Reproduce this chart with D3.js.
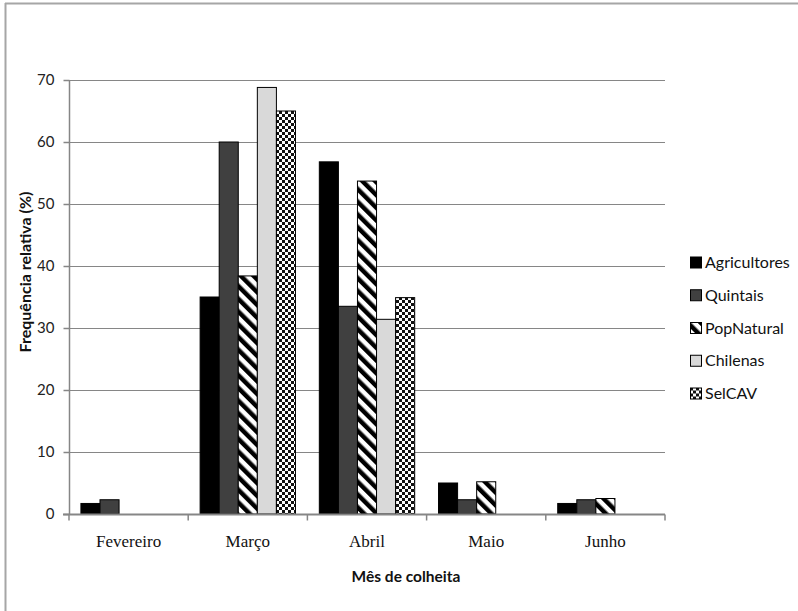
<!DOCTYPE html>
<html>
<head>
<meta charset="utf-8">
<script src="https://cdn.jsdelivr.net/npm/d3@7"></script>
<style>
  html, body { margin: 0; padding: 0; background: #fff; }
  svg { display: block; }
</style>
</head>
<body>
<svg id="chart" width="798" height="611"></svg>
<script>
// Harvest month distribution per group (relative frequency, %)
const months = ["Fevereiro", "Março", "Abril", "Maio", "Junho"];
const groups = ["Agricultores", "Quintais", "PopNatural", "Chilenas", "SelCAV"];
const agricultores = [1.7, 35.0, 56.8, 5.0, 1.7];
const quintais     = [2.3, 60.0, 33.5, 2.3, 2.3];
const popNatural   = [0,   38.4, 53.7, 5.2, 2.5];
const chilenas     = [0,   68.8, 31.4, 0,   0];
const selCAV       = [0,   65.0, 34.9, 0,   0];
const yTicks = [0, 10, 20, 30, 40, 50, 60, 70];

const seriesValues = [agricultores, quintais, popNatural, chilenas, selCAV];

const svg = d3.select("#chart");
const defs = svg.append("defs");

// Diagonal stripe fill
const stripe = defs.append("pattern")
  .attr("id", "stripes").attr("patternUnits", "userSpaceOnUse")
  .attr("width", 9).attr("height", 9)
  .attr("patternTransform", "rotate(-45)");
stripe.append("rect").attr("width", 9).attr("height", 9).attr("fill", "#fff");
stripe.append("rect").attr("x", 0).attr("width", 4.5).attr("height", 9).attr("fill", "#000");

// Small checkerboard fill
const checker = defs.append("pattern")
  .attr("id", "checker").attr("patternUnits", "userSpaceOnUse")
  .attr("width", 6).attr("height", 6);
checker.append("rect").attr("width", 6).attr("height", 6).attr("fill", "#fff");
checker.append("rect").attr("x", 0).attr("y", 0).attr("width", 3).attr("height", 3).attr("fill", "#111");
checker.append("rect").attr("x", 3).attr("y", 3).attr("width", 3).attr("height", 3).attr("fill", "#111");

const fills = ["#000000", "#404040", "url(#stripes)", "#d9d9d9", "url(#checker)"];

// Outer frame (left and top edges)
svg.append("line").attr("x1", 5.5).attr("x2", 5.5).attr("y1", 3).attr("y2", 611)
  .attr("stroke", "#a6a6a6").attr("stroke-width", 2);
svg.append("line").attr("x1", 5).attr("x2", 798).attr("y1", 3.5).attr("y2", 3.5)
  .attr("stroke", "#a6a6a6").attr("stroke-width", 2);

const plot = { left: 69, right: 665, top: 80, bottom: 514 };
const sans = "Lato, 'Open Sans', sans-serif";

const x0 = d3.scaleBand().domain(months).range([plot.left, plot.right]).padding(0);
const x1 = d3.scaleBand().domain(groups)
  .range([x0.bandwidth() * 0.1, x0.bandwidth() * 0.9]).padding(0);
const y = d3.scaleLinear().domain([0, 70]).range([plot.bottom, plot.top]);

// Gridlines
svg.append("g").selectAll("line").data(yTicks.filter(d => d > 0)).join("line")
  .attr("x1", plot.left).attr("x2", plot.right)
  .attr("y1", d => Math.round(y(d)) + 0.5).attr("y2", d => Math.round(y(d)) + 0.5)
  .attr("stroke", "#868686").attr("stroke-width", 1);

// Bars
const barG = svg.append("g");
months.forEach((m, i) => {
  groups.forEach((g, j) => {
    const v = seriesValues[j][i];
    if (!v) return;
    barG.append("rect")
      .attr("x", x0(m) + x1(g))
      .attr("y", y(v))
      .attr("width", x1.bandwidth())
      .attr("height", y(0) - y(v))
      .attr("fill", fills[j])
      .attr("stroke", "#000").attr("stroke-width", 1);
  });
});

// Y axis
const yAxis = svg.append("g")
  .attr("transform", `translate(${plot.left + 0.5},0)`)
  .call(d3.axisLeft(y).tickValues(yTicks).tickSize(6).tickPadding(9));
yAxis.selectAll("path, line").attr("stroke", "#868686").attr("stroke-width", 1.5);
yAxis.select(".domain").attr("d", `M0,${plot.top}V${plot.bottom}`);
yAxis.selectAll("text").attr("font-family", sans)
  .attr("font-size", 15).attr("fill", "#222");

// X axis with ticks at category boundaries
const xAxisG = svg.append("g").attr("transform", `translate(0,${plot.bottom + 0.5})`);
xAxisG.append("line").attr("x1", plot.left - 6).attr("x2", plot.right)
  .attr("stroke", "#868686").attr("stroke-width", 2);
const bounds = months.map(m => x0(m)).concat([x0(months[months.length - 1]) + x0.bandwidth()]);
xAxisG.selectAll("line.tk").data(bounds).join("line").attr("class", "tk")
  .attr("x1", d => d).attr("x2", d => d).attr("y1", 0).attr("y2", 6)
  .attr("stroke", "#868686").attr("stroke-width", 1.5);
xAxisG.selectAll("text").data(months).join("text")
  .attr("x", d => x0(d) + x0.bandwidth() / 2)
  .attr("y", 32)
  .attr("text-anchor", "middle")
  .attr("font-family", "'Liberation Serif', serif")
  .attr("font-size", 17).attr("fill", "#111")
  .text(d => d);

// Axis titles
svg.append("text")
  .attr("x", 406).attr("y", 582)
  .attr("text-anchor", "middle")
  .attr("font-family", sans)
  .attr("font-weight", "bold").attr("font-size", 15.5).attr("fill", "#111")
  .text("Mês de colheita");

svg.append("text")
  .attr("transform", "translate(31,272) rotate(-90)")
  .attr("text-anchor", "middle")
  .attr("font-family", sans)
  .attr("font-weight", "bold").attr("font-size", 16).attr("fill", "#111")
  .text("Frequência relativa (%)");

// Legend
const legend = svg.append("g").attr("transform", "translate(690,262.5)");
groups.forEach((g, j) => {
  const row = legend.append("g").attr("transform", `translate(0,${j * 32.75})`);
  row.append("rect").attr("x", 0.5).attr("y", -5.5).attr("width", 11).attr("height", 11)
    .attr("fill", fills[j]).attr("stroke", "#000").attr("stroke-width", 1);
  row.append("text").attr("x", 15).attr("y", 0).attr("dy", "0.35em")
    .attr("font-family", sans)
    .attr("font-size", 16).attr("fill", "#111")
    .text(g);
});
</script>
</body>
</html>
